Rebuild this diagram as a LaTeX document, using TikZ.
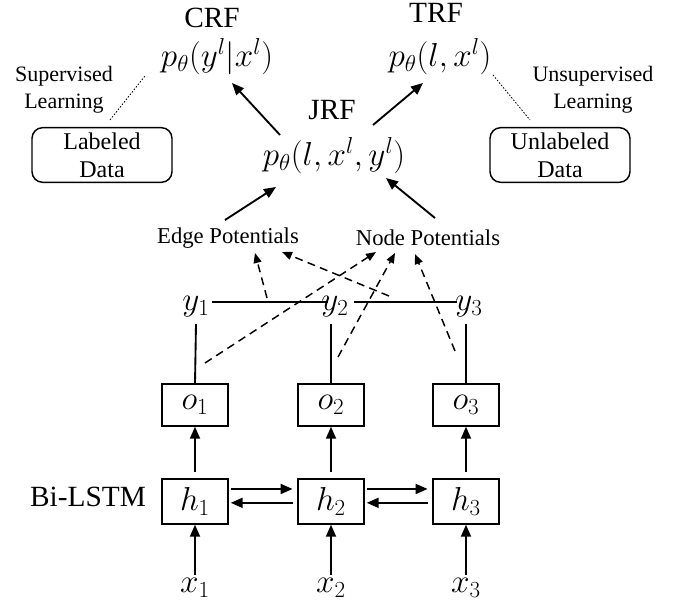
\documentclass[tikz,border=0pt]{standalone}
\usepackage{fontspec}
\setmainfont{Liberation Serif}
\usetikzlibrary{arrows.meta}
\begin{document}
\begin{tikzpicture}[x=0.75pt,y=-0.75pt,
  title/.style={font=\fontsize{22}{26}\selectfont, inner sep=0pt},
  pmath/.style={font=\fontsize{27}{30}\selectfont, inner sep=0pt},
  note/.style={font=\fontsize{16.5}{20}\selectfont, align=center, inner sep=0pt},
  pot/.style={font=\fontsize{17}{20}\selectfont, inner sep=0pt},
  databox/.style={draw, line width=1.1pt, rounded corners=8pt, minimum width=105pt,
     minimum height=41pt, align=center, font=\fontsize{18}{21}\selectfont, inner sep=0pt},
  cell/.style={draw, line width=1.1pt, minimum width=49.5pt, inner sep=0pt,
     font=\fontsize{26}{28}\selectfont},
  var/.style={font=\fontsize{26}{28}\selectfont, inner sep=2pt},
  arr/.style={line width=1.4pt, -{Triangle[length=9pt,width=7.5pt]}},
  darr/.style={line width=1.1pt, dash pattern=on 6pt off 4pt, -{Triangle[length=7.5pt,width=6pt]}},
  link/.style={line width=1.4pt},
  dotl/.style={line width=0.6pt, dash pattern=on 1.2pt off 1.2pt}]
\useasboundingbox (0,0) rectangle (686,609);

% top
\node[title] (crf) at (212,18) {CRF};
\node[pmath] (pcrf) at (217,57) {$p_\theta(y^l|x^l)$};
\node[title] (trf) at (436,13) {TRF};
\node[pmath] (ptrf) at (440,57) {$p_\theta(l,x^l)$};
\node[title] (jrf) at (332,110) {JRF};
\node[pmath] (pjrf) at (334,156) {$p_\theta(l,x^l,y^l)$};

\node[note] (sup) at (64,90) {Supervised\\Learning};
\node[note] (unsup) at (593,90) {Unsupervised\\Learning};
\node[databox] (lab) at (102,155) {Labeled\\Data};
\node[databox] (unlab) at (560,155) {Unlabeled\\Data};

\coordinate (d1a) at (110,120);
\coordinate (d1b) at (145,76);
\coordinate (d2a) at (493,75);
\coordinate (d2b) at (530,120);
\draw[dotl] (d1a) -- (d1b);
\draw[dotl] (d2a) -- (d2b);

\coordinate (j1) at (280,135);
\coordinate (c1) at (232,83);
\coordinate (j2) at (373,125);
\coordinate (t1) at (423,83);
\draw[arr] (j1) -- (c1);
\draw[arr] (j2) -- (t1);

% potentials
\node[pot] (edge) at (228,238) {Edge Potentials};
\node[pot] (nodep) at (428,238) {Node Potentials};
\coordinate (e0) at (225,220);
\coordinate (jl) at (276,187);
\coordinate (n0) at (435,218);
\coordinate (jr) at (386,178);
\draw[arr] (e0) -- (jl);
\draw[arr] (n0) -- (jr);

% y layer
\node[var, anchor=base] (y1) at (196,311) {$y_1$};
\node[var, anchor=base] (y2) at (335,311) {$y_2$};
\node[var, anchor=base] (y3) at (469,311) {$y_3$};
\draw[link] ([yshift=6.5pt]y1.base east) -- ([yshift=6.5pt,xshift=7pt]y2.base west);
\draw[link] ([yshift=6.5pt,xshift=2pt]y2.base east) -- ([yshift=6.5pt,xshift=3pt]y3.base west);

% o and h
\foreach \i/\xx in {1/195,2/331,3/466}{
  \node[cell, minimum height=31.5pt] (o\i) at (\xx,405) {$o_\i$};
  \node[cell, minimum height=33.75pt] (h\i) at (\xx,501.5) {$h_\i$};
  \node[var] (x\i) at (\xx,588) {$x_\i$};
  \draw[arr, shorten <=5pt] (h\i.north) -- (o\i.south);
  \draw[arr] (x\i.north) -- (h\i.south);
}
\foreach \i/\xx in {1/196,2/331,3/466}{
  \coordinate (yb\i) at (\xx,324);
  \draw[link] (yb\i) -- (o\i.north);
}

\node[title] (bilstm) at (88,497) {Bi-LSTM};

\foreach \a/\b in {h1/h2,h2/h3}{
  \draw[arr, shorten <=1.5pt, shorten >=3.5pt] ([yshift=9.4pt]\a.east) -- ([yshift=9.4pt]\b.west);
  \draw[arr, shorten <=3.5pt, shorten >=1.5pt] ([yshift=-1pt]\b.west) -- ([yshift=-1pt]\a.east);
}

% dashed potentials
\coordinate (s12) at (267,298);
\coordinate (s23) at (389,296);
\coordinate (so1) at (205,363);
\coordinate (so2) at (338,357);
\coordinate (so3) at (455,351);
\coordinate (te1) at (255,253);
\coordinate (te2) at (282,252);
\coordinate (tn1) at (376,252);
\coordinate (tn2) at (395,253);
\coordinate (tn3) at (415,254);
\draw[darr] (s12) -- (te1);
\draw[darr] (s23) -- (te2);
\draw[darr] (so1) -- (tn1);
\draw[darr] (so2) -- (tn2);
\draw[darr] (so3) -- (tn3);
\end{tikzpicture}
\end{document}
